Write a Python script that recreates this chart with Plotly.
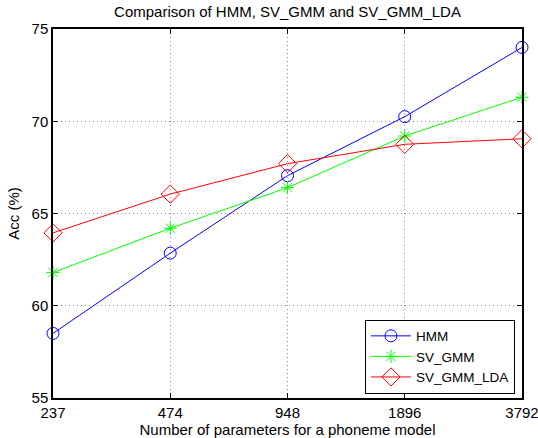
import plotly.graph_objects as go

categories = ["237", "474", "948", "1896", "3792"]
hmm = [58.5, 62.85, 67.05, 70.25, 74.0]
sv_gmm = [61.8, 64.2, 66.4, 69.2, 71.3]
sv_gmm_lda = [63.95, 66.05, 67.7, 68.75, 69.05]
y_ticks = [55, 60, 65, 70, 75]

font = "Liberation Sans, Arial, Helvetica, sans-serif"
fs = 15

fig = go.Figure()
fig.add_trace(go.Scatter(x=categories, y=hmm, name="HMM", mode="lines+markers",
                         line=dict(color="#0000ff", width=1),
                         marker=dict(symbol="circle-open", size=12, color="#0000ff", line=dict(width=1)),
                         cliponaxis=False))
fig.add_trace(go.Scatter(x=categories, y=sv_gmm, name="SV_GMM", mode="lines+markers",
                         line=dict(color="#00ff00", width=1),
                         marker=dict(symbol="asterisk-open", size=11, color="#00ff00", line=dict(width=1, color="#00ff00")),
                         cliponaxis=False))
fig.add_trace(go.Scatter(x=categories, y=sv_gmm_lda, name="SV_GMM_LDA", mode="lines+markers",
                         line=dict(color="#ff0000", width=1),
                         marker=dict(symbol="diamond-open", size=14, color="#ff0000", line=dict(width=1)),
                         cliponaxis=False))

fig.update_layout(
    width=538, height=438,
    margin=dict(l=53, r=16, t=29, b=40),
    paper_bgcolor="white", plot_bgcolor="white",
    font=dict(family=font, size=fs, color="black"),
    title=dict(text="Comparison of HMM, SV_GMM and SV_GMM_LDA", x=0.5, xref="paper",
               y=0.974, yanchor="middle", font=dict(size=fs, family=font)),
    showlegend=True,
    legend=dict(x=0.985, y=0.012, xanchor="right", yanchor="bottom",
                bgcolor="white", bordercolor="black", borderwidth=1,
                font=dict(size=13.5, family=font), tracegroupgap=0, itemwidth=40),
)
fig.update_xaxes(type="category", categoryorder="array", categoryarray=categories,
                 range=[0, len(categories) - 1], automargin=False,
                 showline=True, linecolor="black", linewidth=1.5, mirror="ticks",
                 ticks="inside", ticklen=5, tickcolor="black",
                 showgrid=True, gridcolor="#8a8a8a", griddash="1px,3px", gridwidth=1,
                 zeroline=False,
                 title=dict(text="Number of parameters for a phoneme model", standoff=1,
                            font=dict(size=fs, family=font)),
                 tickfont=dict(size=fs, family=font))
fig.update_yaxes(range=[55, 75], tickvals=y_ticks, automargin=False,
                 showline=True, linecolor="black", linewidth=1.5, mirror="ticks",
                 ticks="inside", ticklen=5, tickcolor="black",
                 showgrid=True, gridcolor="#8a8a8a", griddash="1px,3px", gridwidth=1,
                 zeroline=False,
                 title=dict(text="Acc (%)", standoff=8, font=dict(size=fs, family=font)),
                 tickfont=dict(size=fs, family=font))

fig.write_html("out.html", config={"displayModeBar": False},
               post_script="document.body.style.margin='0';document.body.style.overflow='hidden';")
